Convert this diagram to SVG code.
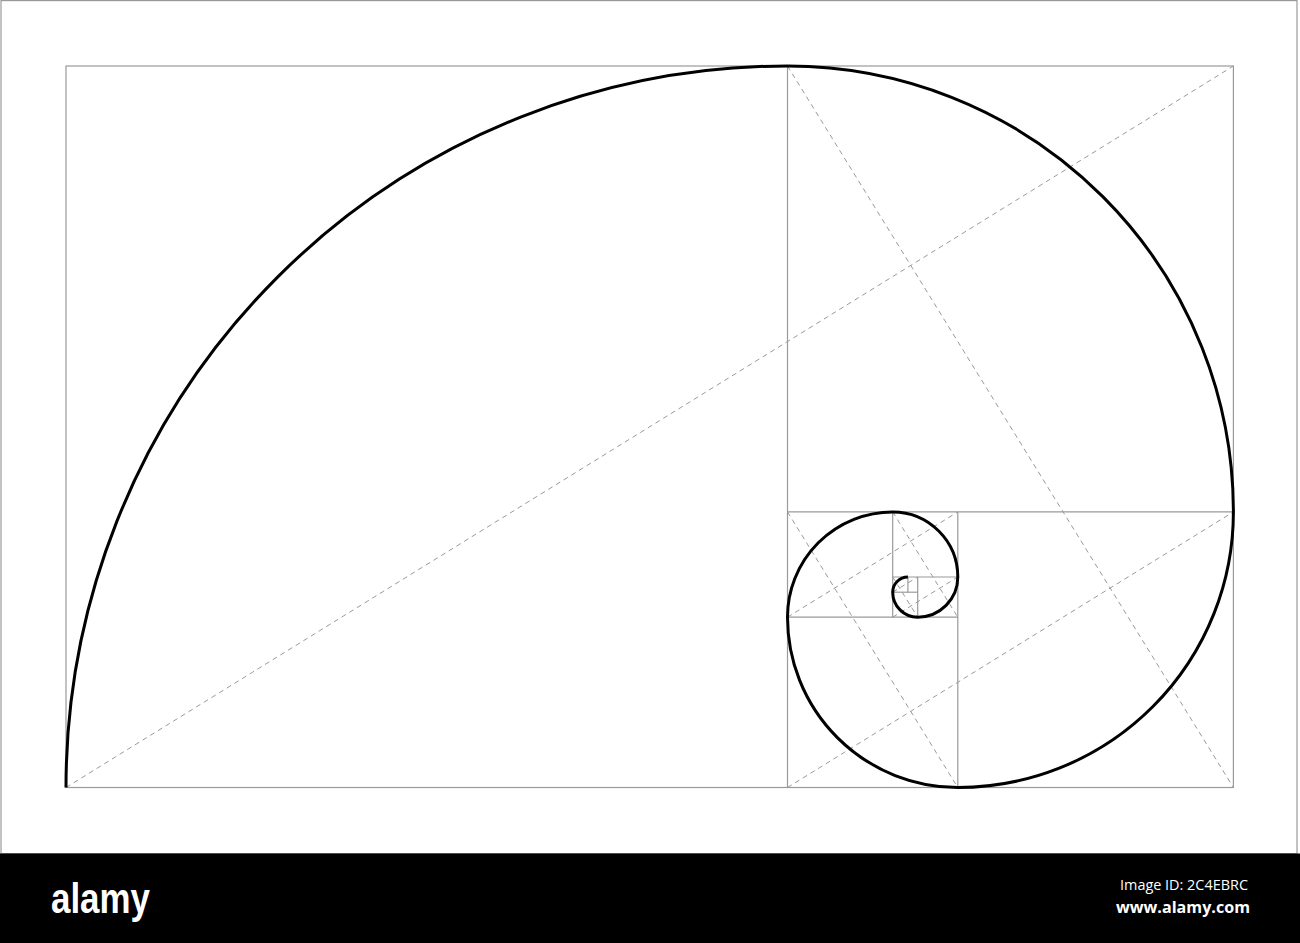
<svg xmlns="http://www.w3.org/2000/svg" width="1300" height="943" viewBox="0 0 1300 943">
  <style>
    .frame{fill:none;stroke:#9a9a9a;stroke-width:1.2}
    .grid{fill:none;stroke:#9a9a9a;stroke-width:1.2}
    .diag{fill:none;stroke:#9a9a9a;stroke-width:1;stroke-dasharray:5 4}
    .spiral{fill:none;stroke:#000;stroke-width:3;stroke-linecap:butt}
    .logo{font-family:"Liberation Sans",Arial,sans-serif;font-weight:bold;fill:#fff}
    .meta{font-family:"Open Sans","Noto Sans",sans-serif;fill:#fff}
  </style>
  <rect x="0" y="0" width="1300" height="943" fill="#fff"/>
  <rect class="frame" x="1" y="0.6" width="1296" height="853"/>

  <g id="squares">
    <rect class="grid" x="66" y="66" width="1167.4" height="721.5"/>
    <line class="grid" x1="787.5" y1="66" x2="787.5" y2="787.5"/>
    <line class="grid" x1="787.5" y1="511.9" x2="1233.4" y2="511.9"/>
    <line class="grid" x1="957.8" y1="511.9" x2="957.8" y2="787.5"/>
    <line class="grid" x1="787.5" y1="617.2" x2="957.8" y2="617.2"/>
    <line class="grid" x1="892.7" y1="511.9" x2="892.7" y2="617.2"/>
    <line class="grid" x1="892.7" y1="577" x2="957.8" y2="577"/>
    <line class="grid" x1="917.7" y1="577" x2="917.7" y2="617.2"/>
    <line class="grid" x1="892.7" y1="592.2" x2="917.7" y2="592.2"/>
    <line class="grid" x1="907.9" y1="577" x2="907.9" y2="592.2"/>
  </g>

  <g id="connectors">
    <line class="diag" x1="66" y1="787.5" x2="1233.4" y2="66"/>
    <line class="diag" x1="787.5" y1="66" x2="1233.4" y2="787.5"/>
    <line class="diag" x1="787.5" y1="787.5" x2="1233.4" y2="511.9"/>
    <line class="diag" x1="787.5" y1="511.9" x2="957.8" y2="787.5"/>
    <line class="diag" x1="787.5" y1="617.2" x2="957.8" y2="511.9"/>
    <line class="diag" x1="892.7" y1="511.9" x2="957.8" y2="617.2"/>
    <line class="diag" x1="892.7" y1="617.2" x2="957.8" y2="577"/>
    <line class="diag" x1="892.7" y1="577" x2="917.7" y2="617.2"/>
    <line class="diag" x1="892.7" y1="592.2" x2="917.7" y2="577"/>
  </g>

  <g id="spiral">
    <path class="spiral" d="M66,787.5 A721.5,721.5 0 0 1 787.5,66 A445.9,445.9 0 0 1 1233.4,511.9 A275.6,275.6 0 0 1 957.8,787.5 A170.3,170.3 0 0 1 787.5,617.2 A105.2,105.2 0 0 1 892.7,511.9 A65.1,65.1 0 0 1 957.8,577 A40.1,40.1 0 0 1 917.7,617.2 A25,25 0 0 1 892.7,592.2 A15.2,15.2 0 0 1 907.9,577"/>
  </g>

  <g id="footer">
    <rect x="0" y="853.5" width="1300" height="89.5" fill="#000"/>
    <text class="logo" x="51" y="913" font-size="42" textLength="99" lengthAdjust="spacingAndGlyphs">alamy</text>
    <text class="meta" x="1120" y="890" font-size="14.5" textLength="128" lengthAdjust="spacingAndGlyphs">Image ID: 2C4EBRC</text>
    <text class="meta" x="1116" y="913" font-size="16.5" font-weight="bold" textLength="134" lengthAdjust="spacingAndGlyphs">www.alamy.com</text>
  </g>
</svg>
